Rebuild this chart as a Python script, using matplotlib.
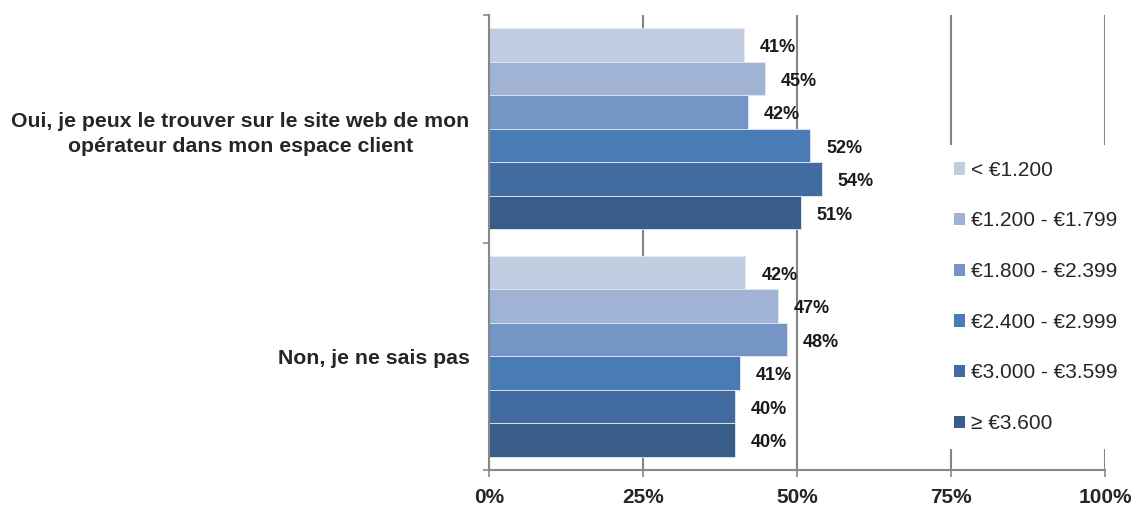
import numpy as np
import matplotlib.pyplot as plt
from matplotlib.patches import Patch

plt.rcParams['font.family'] = ['Liberation Sans', 'DejaVu Sans']

categories = ["Oui, je peux le trouver sur le site web de mon\nopérateur dans mon espace client",
              "Non, je ne sais pas"]
series = ["< €1.200", "€1.200 - €1.799", "€1.800 - €2.399",
          "€2.400 - €2.999", "€3.000 - €3.599", "≥ €3.600"]
# bar lengths (as drawn) and the printed labels
values = [[41.4, 41.6],
          [44.8, 46.9],
          [42.0, 48.4],
          [52.1, 40.7],
          [54.0, 39.9],
          [50.6, 39.9]]
labels = [["41%", "42%"],
          ["45%", "47%"],
          ["42%", "48%"],
          ["52%", "41%"],
          ["54%", "40%"],
          ["51%", "40%"]]
colors = ["#c3cde2", "#a1b3d4", "#7495c5", "#497bb5", "#426ca0", "#385d89"]

fig = plt.figure(figsize=(11.35, 5.05), dpi=100)
ax = fig.add_axes([489/1135, 1-470/505, 616/1135, 455/505])

h = 0.884 / 6
y = np.arange(len(categories))
for j in range(len(series)):
    yy = y + (j - 2.5) * h
    ax.barh(yy, values[j], height=h, color=colors[j], edgecolor='#e4e9f2',
            linewidth=0.6, zorder=2)
    for i in range(len(categories)):
        ax.text(values[j][i] + 2.6, yy[i] + 0.012, labels[j][i], ha='left', va='center',
                fontsize=13, fontweight='bold', color='#1a1a1a', zorder=3)

ax.set_xlim(0, 100)
ax.set_ylim(1.5, -0.5)
ax.set_xticks([0, 25, 50, 75, 100])
ax.set_xticklabels(["0%", "25%", "50%", "75%", "100%"], fontsize=15, fontweight='bold', color='#262626')
ax.set_yticks([-0.5, 0.5, 1.5])
ax.set_yticklabels([])
ax.set_yticks(y, minor=True)
ax.set_yticklabels(categories, minor=True, fontsize=15.3, fontweight='bold', color='#262626',
                   linespacing=1.45)
for t in ax.get_yticklabels(minor=True):
    t.set_multialignment('center')
ax.tick_params(axis='y', which='minor', length=0, pad=14)
ax.tick_params(axis='y', which='major', length=4, width=1.2, color='#888888')
ax.tick_params(axis='x', length=5, width=1.2, color='#888888', pad=8)
ax.grid(axis='x', color='#858585', linewidth=1.5, zorder=1)
ax.set_axisbelow(True)
for s in ['top', 'right']:
    ax.spines[s].set_visible(False)
for s in ['left', 'bottom']:
    ax.spines[s].set_color('#888888')
    ax.spines[s].set_linewidth(1.5)

handles = [Patch(facecolor=c, edgecolor='none') for c in colors]
leg = fig.legend(handles, series, loc='center left', bbox_to_anchor=(938/1135, 1-297/505),
                 fontsize=15, frameon=True, framealpha=1, edgecolor='none', facecolor='white',
                 handlelength=0.55, handleheight=0.55, handletextpad=0.3,
                 labelspacing=1.52, borderpad=0.75, borderaxespad=0)
for t in leg.get_texts():
    t.set_color('#262626')

fig.savefig('out.png', dpi=100)
